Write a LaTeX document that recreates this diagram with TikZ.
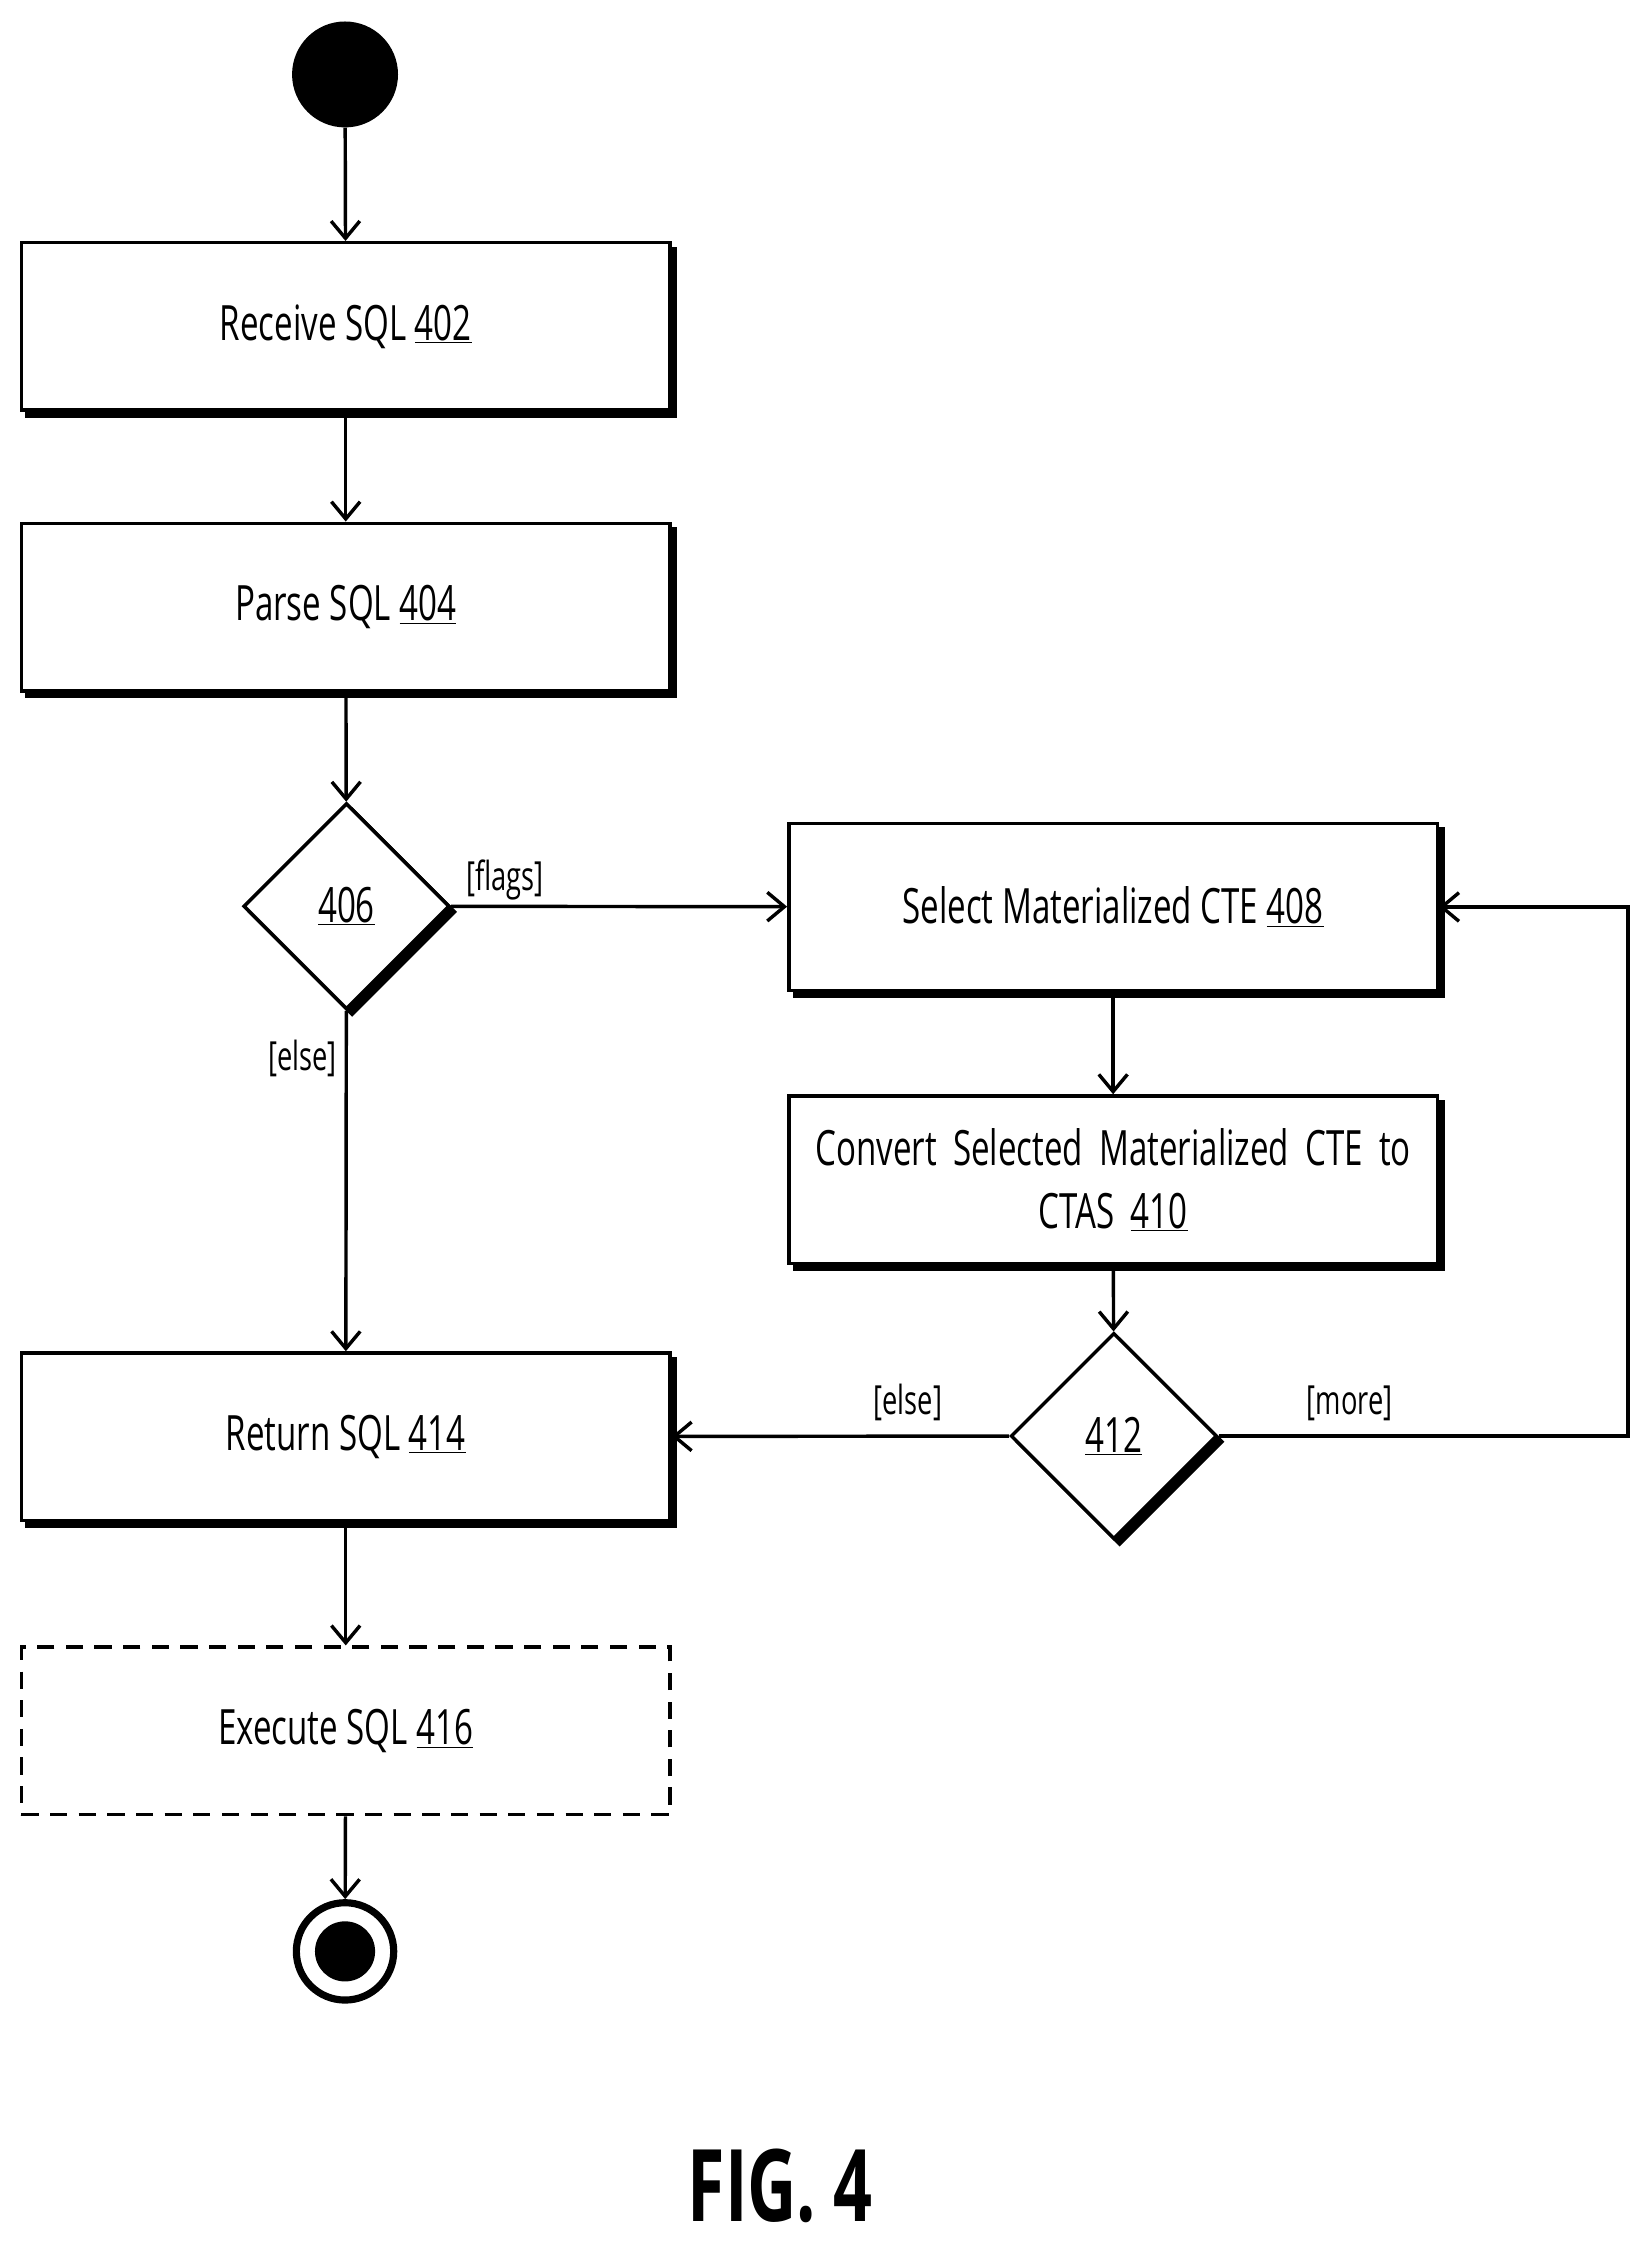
\documentclass[tikz,border=0pt]{standalone}
\usepackage{fontspec}
\setmainfont{Open Sans}[FakeStretch=0.68]
\usetikzlibrary{shapes.geometric,arrows.meta}
\begin{document}
\begin{tikzpicture}[x=1pt,y=-1pt,
  every node/.style={font=\fontsize{34}{44}\selectfont},
  line/.style={line width=2.4pt,-{Straight Barb[length=12pt,width=20pt,line width=2.4pt]}},
  box/.style={draw,line width=2.4pt,minimum width=453pt,minimum height=117pt,align=center,inner sep=0pt},
  shad/.style={box,preaction={fill=black,draw=black,transform canvas={shift={(4pt,-4pt)}}},fill=white},
  dia/.style={draw,line width=2.4pt,diamond,minimum width=144pt,minimum height=144pt,inner sep=0pt,
     preaction={fill=black,draw=black,transform canvas={shift={(4pt,-4pt)}}},fill=white},
  lab/.style={font=\fontsize{28}{34}\selectfont}]
\useasboundingbox (0,0) rectangle (1152,1566);
\node[circle,fill=black,minimum size=74pt,inner sep=0pt] (s) at (241,52) {};
\node[shad] (a) at (241.5,228) {Receive SQL \underline{402}};
\node[shad] (b) at (241.5,424) {Parse SQL \underline{404}};
\node[dia] (c) at (242,633) {\underline{406}};
\node[shad] (d) at (777.5,633.5) {Select Materialized CTE \underline{408}};
\node[shad,text width=440pt] (e) at (777.5,824) {Convert Selected Materialized CTE to\\CTAS \underline{410}};
\node[dia] (f) at (778,1003) {\underline{412}};
\node[shad] (g) at (241.5,1003.5) {Return SQL \underline{414}};
\node[box,dashed,dash pattern=on 12pt off 8pt] (h) at (241.5,1209) {Execute SQL \underline{416}};
\node[circle,draw,line width=5pt,minimum size=68pt,inner sep=0pt] (t) at (241,1363) {};
\node[circle,fill=black,minimum size=42pt,inner sep=0pt] at (t) {};
\coordinate (k1) at (1137,1003);
\coordinate (k2) at (1137,633.5);
\draw[line] (s) -- (a);
\draw[line] (a) -- (b);
\draw[line] (b) -- (c);
\draw[line] (c) -- node[lab,pos=0.16,above] {[flags]} (d);
\draw[line] (c) -- node[lab,pos=0.14,left,xshift=-2pt] {[else]} (g);
\draw[line] (d) -- (e);
\draw[line] (e) -- (f);
\draw[line] (f) -- node[lab,pos=0.3,above,yshift=6pt] {[else]} (g);
\draw[line] (f.east) -- node[lab,pos=0.32,above,yshift=6pt] {[more]} (k1) -- (k2) -- (d.east);
\draw[line] (g) -- (h);
\draw[line] (h) -- (t);
\node[font=\fontsize{70}{80}\selectfont\bfseries] (fig) at (545,1527) {FIG. 4};
\end{tikzpicture}
\end{document}
